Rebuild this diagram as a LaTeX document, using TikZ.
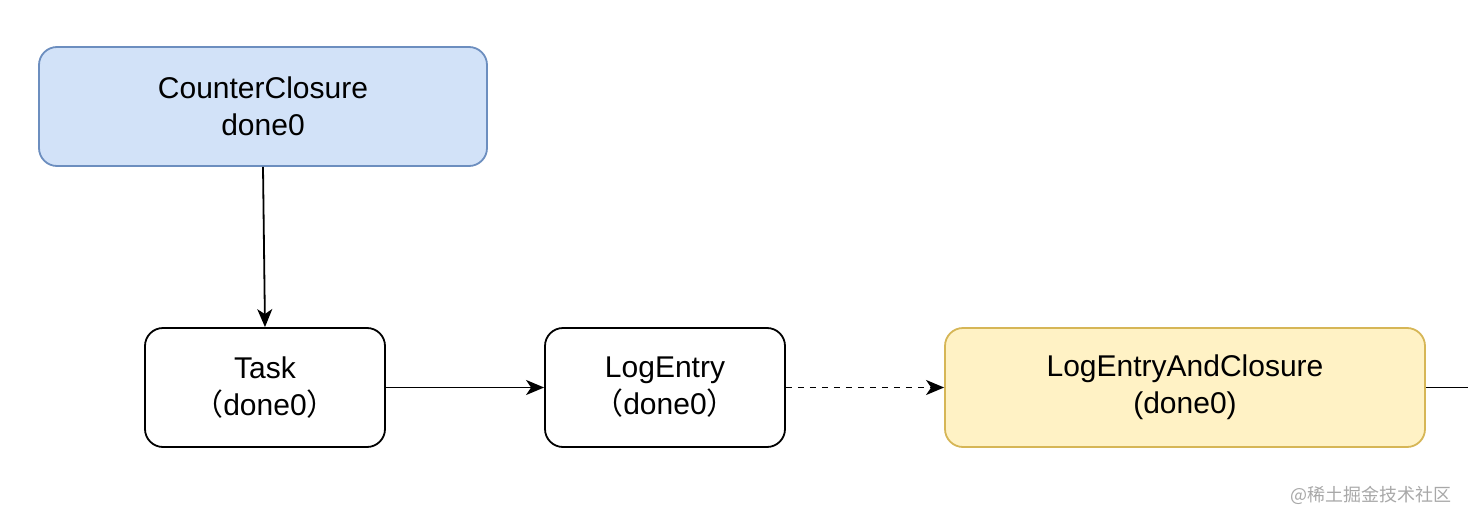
\documentclass[tikz,border=0pt]{standalone}
\usepackage{fontspec}
\setmainfont{Liberation Sans}
\newfontfamily\cjk{Noto Sans CJK SC}
\usetikzlibrary{arrows.meta}
\definecolor{bluefill}{HTML}{D2E2F8}
\definecolor{blueline}{HTML}{6C8EBF}
\definecolor{yelfill}{HTML}{FFF2C5}
\definecolor{yelline}{HTML}{D6B656}
\definecolor{wmgray}{HTML}{A8A8A8}
\begin{document}
\begin{tikzpicture}[x=1pt,y=-1pt,
  box/.style={draw=black,line width=1.8pt,rounded corners=18pt,fill=white,
    align=center,font=\fontsize{30}{37}\selectfont,inner sep=0pt},
  conn/.style={line width=1.8pt,-{Stealth[length=18pt,width=15pt,inset=5pt]}}]
\useasboundingbox (0,0) rectangle (1468,522);
\node[box,fill=bluefill,draw=blueline,minimum width=448pt,minimum height=119pt] (cc) at (263,106.5) {CounterClosure\\done0};
\node[box,minimum width=240pt,minimum height=119pt] (task) at (265,387.5) {Task\\{\cjk （}done0{\cjk ）}};
\node[box,minimum width=240pt,minimum height=119pt] (le) at (665,387.5) {LogEntry\\{\cjk （}done0{\cjk ）}};
\node[box,fill=yelfill,draw=yelline,minimum width=480pt,minimum height=119pt] (lec) at (1185,387.5) {LogEntryAndClosure\\(done0)};
\coordinate (out) at (1468,387.5);
\draw[conn] (cc.south) -- (task.north);
\draw[conn] (task.east) -- (le.west);
\draw[conn,dash pattern=on 6pt off 6pt] (le.east) -- (lec.west);
\draw[line width=1.8pt] (lec.east) -- (out);
\node[text=wmgray,font=\cjk\fontsize{18}{20}\selectfont,anchor=east,inner sep=0pt] (wm) at (1452,495) {@稀土掘金技术社区};
\end{tikzpicture}
\end{document}
